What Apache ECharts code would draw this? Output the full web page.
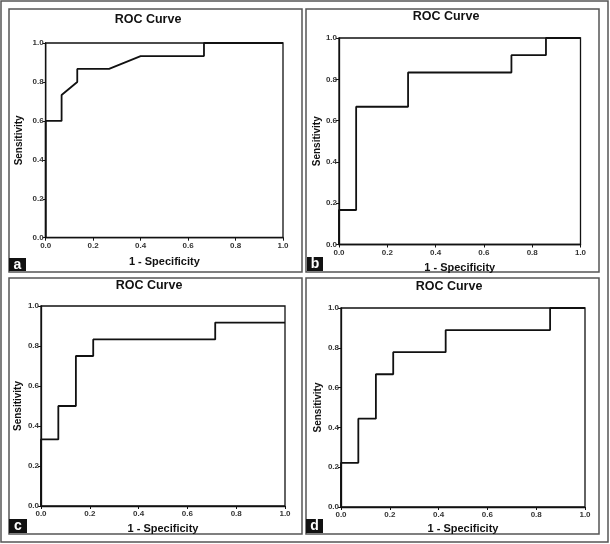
<!DOCTYPE html>
<html><head><meta charset="utf-8">
<script src="https://cdn.jsdelivr.net/npm/echarts@6/dist/echarts.min.js"></script>
<style>html,body{margin:0;padding:0;background:#fff}#c{width:610px;height:544px}</style>
</head><body><div id="c"></div>
<script>
// Panel a
const aX = [0, 0, 0.067, 0.067, 0.133, 0.133, 0.267, 0.4, 0.667, 0.667, 1];
const aY = [0, 0.6, 0.6, 0.733, 0.8, 0.867, 0.867, 0.933, 0.933, 1, 1];
// Panel b
const bX = [0, 0, 0.071, 0.071, 0.286, 0.286, 0.714, 0.714, 0.857, 0.857, 1];
const bY = [0, 0.167, 0.167, 0.667, 0.667, 0.833, 0.833, 0.917, 0.917, 1, 1];
// Panel c
const cX = [0, 0, 0.071, 0.071, 0.143, 0.143, 0.214, 0.214, 0.714, 0.714, 1];
const cY = [0, 0.333, 0.333, 0.5, 0.5, 0.75, 0.75, 0.833, 0.833, 0.917, 0.917];
// Panel d
const dX = [0, 0, 0.071, 0.071, 0.143, 0.143, 0.214, 0.214, 0.429, 0.429, 0.857, 0.857, 1];
const dY = [0, 0.222, 0.222, 0.444, 0.444, 0.667, 0.667, 0.778, 0.778, 0.889, 0.889, 1, 1];

const panelLetters = ['a', 'b', 'c', 'd'];
const titleText = 'ROC Curve';
const xName = '1 - Specificity';
const yName = 'Sensitivity';
const axisMin = 0, axisMax = 1, axisStep = 0.2;

const curves = [[aX, aY], [bX, bY], [cX, cY], [dX, dY]];

const grids = [
  {left: 45.7, top: 43, width: 237.3, height: 194.7},
  {left: 339, top: 38, width: 241.5, height: 206.5},
  {left: 41, top: 306, width: 244, height: 200},
  {left: 341, top: 308, width: 244, height: 199}
];
const titlePos = [[143, 8], [441, 5], [144, 274], [444, 275]];
const xNameGap = [19, 18, 17, 16];
const yNameGap = [21, 17, 18, 18];
const panels = [[9, 9, 293, 263], [306, 9, 293, 263], [9, 278, 293, 256], [306, 278, 293, 256]];
const letterBoxes = [[9, 258, 17, 13], [307, 257, 16, 14], [9, 519, 18, 14], [306, 519, 17, 14]];

const FONT = 'Liberation Sans, Arial, sans-serif';

const option = {
  animation: false,
  backgroundColor: '#fff',
  title: titlePos.map(p => ({
    text: titleText, left: p[0], top: p[1], textAlign: 'center',
    textStyle: {fontFamily: FONT, fontSize: 12.5, fontWeight: 'bold', color: '#111'}
  })),
  grid: grids.map(g => Object.assign({show: true, borderColor: '#111', borderWidth: 1.3, backgroundColor: 'transparent'}, g)),
  xAxis: grids.map((g, i) => ({
    type: 'value', gridIndex: i, min: axisMin, max: axisMax, interval: axisStep,
    name: xName, nameLocation: 'middle', nameGap: xNameGap[i],
    nameTextStyle: {fontFamily: FONT, fontSize: 11, fontWeight: 'bold', color: '#111'},
    axisLine: {show: true, lineStyle: {color: '#111', width: 1.3}},
    axisTick: {show: true, length: 3, lineStyle: {color: '#111'}},
    axisLabel: {fontFamily: FONT, fontSize: 8, fontWeight: 'bold', color: '#333', margin: 4, formatter: v => v.toFixed(1)},
    splitLine: {show: false}
  })),
  yAxis: grids.map((g, i) => ({
    type: 'value', gridIndex: i, min: axisMin, max: axisMax, interval: axisStep,
    name: yName, nameLocation: 'middle', nameGap: yNameGap[i], nameRotate: 90,
    nameTextStyle: {fontFamily: FONT, fontSize: 10, fontWeight: 'bold', color: '#111'},
    axisLine: {show: true, lineStyle: {color: '#111', width: 1.3}},
    axisTick: {show: true, length: 3, lineStyle: {color: '#111'}},
    axisLabel: {fontFamily: FONT, fontSize: 8, fontWeight: 'bold', color: '#333', margin: 2, formatter: v => v.toFixed(1)},
    splitLine: {show: false}
  })),
  series: curves.map((c, i) => ({
    type: 'line', xAxisIndex: i, yAxisIndex: i, showSymbol: false, silent: true,
    data: c[0].map((x, k) => [x, c[1][k]]),
    lineStyle: {color: '#111', width: 1.8}
  })),
  graphic: [
    {type: 'rect', shape: {x: 1, y: 1, width: 607, height: 541}, style: {fill: 'none', stroke: '#555', lineWidth: 1.5}, z: -1},
    ...panels.map(p => ({type: 'rect', shape: {x: p[0], y: p[1], width: p[2], height: p[3]}, style: {fill: 'none', stroke: '#555', lineWidth: 1.5}, z: -1})),
    ...letterBoxes.map((b, i) => ({
      type: 'group', children: [
        {type: 'rect', shape: {x: b[0], y: b[1], width: b[2], height: b[3]}, style: {fill: '#111'}},
        {type: 'text', x: b[0] + b[2] / 2, y: b[1] + b[3] / 2 + 0.5, style: {text: panelLetters[i], fill: '#fff', font: 'bold 14px ' + FONT, textAlign: 'center', textVerticalAlign: 'middle'}}
      ]
    }))
  ]
};
echarts.init(document.getElementById('c'), null, {renderer: 'canvas'}).setOption(option);
</script></body></html>
